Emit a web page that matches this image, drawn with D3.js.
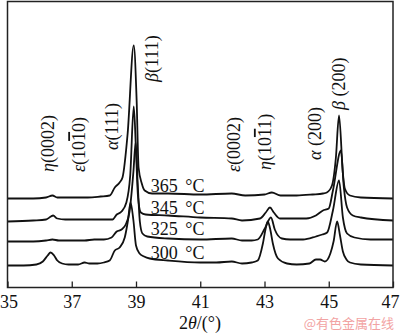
<!DOCTYPE html>
<html>
<head>
<meta charset="utf-8">
<script src="https://cdn.jsdelivr.net/npm/d3@7"></script>
<style>
  html, body { margin: 0; padding: 0; background: #fff; }
  svg { display: block; }
  .serif { font-family: "Liberation Serif", "Times New Roman", serif; }
</style>
</head>
<body>
<svg id="chart" width="400" height="334"></svg>
<script>
// XRD patterns (2θ in degrees, intensity in a.u. above each pattern's baseline)
const temperatures = ["300", "325", "345", "365"];
const baselineOffsets = [22, 46, 67, 89];

const pattern300 = [
  [35.0,0],[35.5,0],[35.9,1],[36.1,4],[36.25,10],[36.34,13],[36.45,10],[36.55,5],[36.7,2],[36.9,1],
  [37.2,1],[37.4,3],[37.55,2],[37.8,2],[38.0,3],[38.18,5],[38.34,15],[38.49,18],[38.65,28],[38.75,45],
  [38.83,63],[38.92,45],[39.0,20],[39.11,12],[39.25,9],[39.43,7],[40.0,5],[41.0,3],[41.5,3],[41.98,4],
  [42.3,2],[42.6,3],[42.79,5],[42.95,22],[43.03,36],[43.1,44],[43.18,36],[43.26,22],[43.42,7],[43.7,2],
  [44.0,1],[44.4,2],[44.6,6],[44.73,6],[44.88,4],[45.05,12],[45.15,24],[45.26,44],[45.35,30],[45.44,14],
  [45.55,6],[45.66,3],[46.0,1],[47.0,0]
];
const pattern325 = [
  [35.0,0],[35.8,0],[36.2,1],[36.4,2],[36.6,1],[37.0,1],[37.4,1],[37.7,2],[38.0,2],[38.24,4],
  [38.4,10],[38.55,12],[38.68,17],[38.8,30],[38.92,70],[38.99,99],[39.05,60],[39.12,20],[39.2,8],[39.35,5],
  [40.0,3],[41.0,2],[41.98,3],[42.3,1],[42.6,1],[42.79,2],[43.01,13],[43.2,24],[43.32,12],[43.54,3],
  [43.8,2],[44.2,2],[44.6,5],[44.8,7],[44.95,9],[45.13,31],[45.32,61],[45.44,24],[45.57,8],[45.8,4],
  [46.3,2],[47.0,2]
];
const pattern345 = [
  [35.0,-1],[35.8,0],[36.2,1],[36.35,4],[36.42,5],[36.55,2],[36.8,1],[37.2,1],[37.6,1],[38.0,1],
  [38.27,1],[38.4,6],[38.55,9],[38.7,18],[38.82,45],[38.93,114],[39.0,70],[39.06,25],[39.15,8],[39.3,6],
  [40.0,5],[41.0,3],[41.98,2],[42.3,0],[42.86,2],[43.04,8],[43.17,13],[43.29,8],[43.48,2],[43.8,2],
  [44.3,2],[44.6,5],[44.82,10],[45.0,12],[45.13,30],[45.38,70],[45.47,33],[45.57,13],[45.75,5],[46.0,3],
  [47.0,0]
];
const pattern365 = [
  [35.0,0],[35.8,0],[36.2,1],[36.4,3],[36.55,1],[37.0,1],[37.5,1],[37.9,2],[38.18,3],[38.34,11],
  [38.49,16],[38.58,21],[38.74,65],[38.93,153],[39.02,98],[39.08,31],[39.18,15],[39.27,8],[39.5,5],[40.0,5],
  [41.0,4],[41.98,5],[42.4,3],[43.0,4],[43.23,6],[43.5,3],[44.0,3],[44.5,4],[44.82,5],[44.94,6],
  [45.1,13],[45.22,40],[45.32,83],[45.44,25],[45.5,10],[45.66,3],[46.0,1],[47.0,0]
];
const patterns = [pattern300, pattern325, pattern345, pattern365];

const xTicks = [35, 37, 39, 41, 43, 45, 47];

// Reflection labels: phase symbol, Miller index parts ([text, overlined?]), 2θ position and label foot
const peakLabels = [
  { phase: "η", hkl: [["(0002)", false]], at: 36.46, foot: 172 },
  { phase: "ε", hkl: [["(10", false], ["1", true], ["0)", false]], at: 37.42, foot: 172 },
  { phase: "α", hkl: [["(111)", false]], at: 38.44, foot: 150 },
  { phase: "β", hkl: [["(111)", false]], at: 39.68, foot: 82 },
  { phase: "ε", hkl: [["(0002)", false]], at: 42.23, foot: 172 },
  { phase: "η", hkl: [["(10", false], ["1", true], ["1)", false]], at: 43.2, foot: 170 },
  { phase: "α", hkl: [["\u00a0(200)", false]], at: 44.75, foot: 160 },
  { phase: "β", hkl: [["\u00a0(200)", false]], at: 45.5, foot: 110 }
];

const svg = d3.select("#chart");
const margin = { left: 7.5, right: 7, top: 1.5, bottom: 46.5 };
const W = 400, H = 334;

const x = d3.scaleLinear().domain([35, 47]).range([margin.left, W - margin.right]);
const y = d3.scaleLinear().domain([0, 285]).range([H - margin.bottom, H - margin.bottom - 285]);

const line = d3.line()
  .x(d => x(d[0]))
  .y(d => y(d[1]))
  .curve(d3.curveMonotoneX);

// patterns, each lifted by its baseline offset
svg.append("g").selectAll("path")
  .data(patterns)
  .join("path")
  .attr("d", (p, i) => line(p.map(d => [d[0], d[1] + baselineOffsets[i]])))
  .attr("fill", "none")
  .attr("stroke", "#111")
  .attr("stroke-width", 1.8)
  .attr("stroke-linejoin", "round");

// temperature labels sitting above each pattern, right of β(111)
const temp = svg.append("g").selectAll("text")
  .data(temperatures)
  .join("text")
  .attr("class", "serif")
  .attr("x", x(39.46))
  .attr("y", (t, i) => y(baselineOffsets[i] + 7))
  .attr("font-size", 18)
  .attr("fill", "#111");
temp.append("tspan").text(t => t + " ");
temp.append("tspan").attr("dx", 3).text("°C");

// reflection labels, rotated to read upward
const lab = svg.append("g").selectAll("text")
  .data(peakLabels)
  .join("text")
  .attr("class", "serif")
  .attr("font-size", 18)
  .attr("fill", "#111")
  .attr("text-anchor", "start")
  .attr("transform", d => `translate(${x(d.at)},${d.foot}) rotate(-90)`);
lab.append("tspan").attr("font-style", "italic").text(d => d.phase);
lab.each(function(d) {
  const t = d3.select(this);
  d.hkl.forEach(([s, over]) => {
    const ts = t.append("tspan").text(s);
    if (over) ts.style("text-decoration", "overline");
  });
});

// frame
svg.append("rect")
  .attr("x", margin.left).attr("y", margin.top)
  .attr("width", W - margin.left - margin.right)
  .attr("height", H - margin.top - margin.bottom)
  .attr("fill", "none").attr("stroke", "#222").attr("stroke-width", 1.5);

// bottom axis with inward ticks
const axis = d3.axisBottom(x).tickValues(xTicks).tickFormat(d3.format("d"))
  .tickSizeInner(-6).tickSizeOuter(0).tickPadding(8);
const gx = svg.append("g")
  .attr("transform", `translate(0,${H - margin.bottom})`)
  .call(axis);
gx.select(".domain").remove();
gx.selectAll(".tick line").attr("stroke", "#222").attr("stroke-width", 1.3);
gx.selectAll(".tick text")
  .attr("class", "serif")
  .attr("font-size", 18)
  .attr("fill", "#111")
  .attr("dx", d => d === 47 ? -3 : (d === 35 ? 1 : 0));

// axis title
const title = svg.append("text")
  .attr("class", "serif")
  .attr("x", 200).attr("y", 329)
  .attr("text-anchor", "middle")
  .attr("font-size", 18)
  .attr("fill", "#111");
title.append("tspan").text("2");
title.append("tspan").attr("font-style", "italic").text("θ");
title.append("tspan").text("/(°)");

// source mark
svg.append("text")
  .attr("x", 394).attr("y", 328)
  .attr("text-anchor", "end")
  .attr("font-family", "'Noto Sans CJK SC', sans-serif")
  .attr("font-size", 13)
  .attr("fill", "#f2a3a3")
  .text("@有色金属在线");
</script>
</body>
</html>
